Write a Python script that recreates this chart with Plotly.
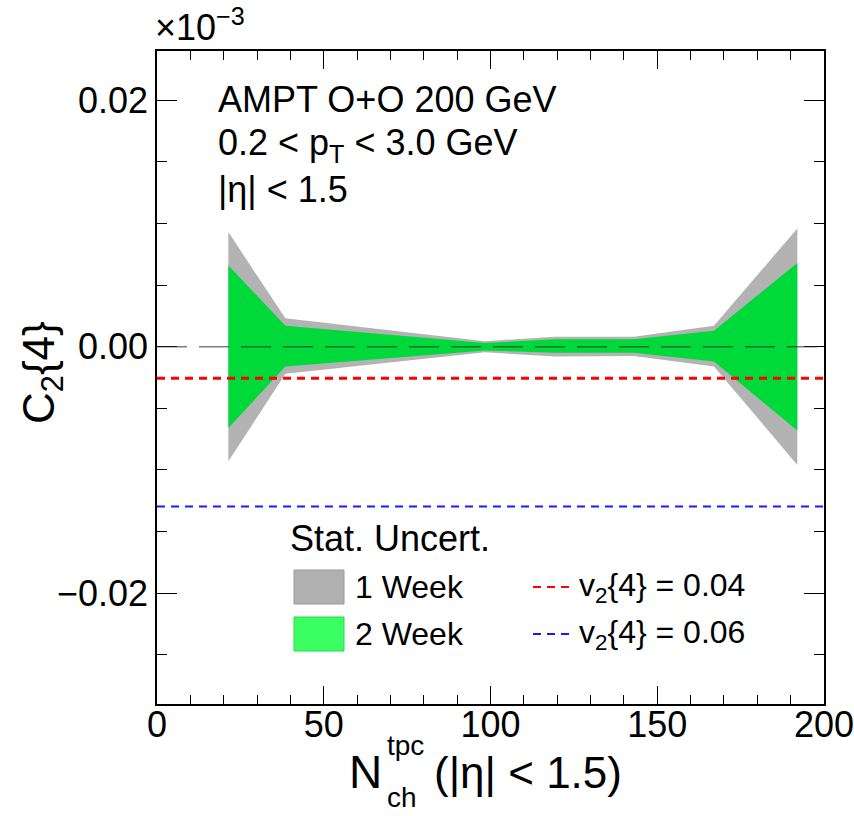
import plotly.graph_objects as go

# ---------------- data ----------------
nch = [21.4, 38.5, 98.3, 119.3, 143.0, 167.0, 192.0]
week1_hi = [0.0093, 0.0023, 0.00045, 0.0008, 0.0008, 0.0017, 0.0096]
week1_lo = [-0.0093, -0.0022, -0.00045, -0.0008, -0.00076, -0.0016, -0.0096]
week2_hi = [0.0066, 0.0017, 0.0003, 0.0006, 0.0006, 0.0013, 0.0068]
week2_lo = [-0.0066, -0.0016, -0.0003, -0.0005, -0.0005, -0.0012, -0.0068]
ref_labels = ["v<sub>2</sub>{4} = 0.04", "v<sub>2</sub>{4} = 0.06"]
ref_levels = [-0.00256, -0.01296]
ref_colors = ["#ff0000", "#1a1aff"]
ref_widths = [3, 2]

x_ticks = [0, 50, 100, 150, 200]
y_ticks = [-0.02, 0.0, 0.02]

FONT = "Liberation Sans, Arial, Helvetica, sans-serif"
W, H = 854, 816
L, R, T, B = 157, 824, 51, 704


def px(x):
    return (x - L) / (R - L)


def py(y):
    return (B - y) / (B - T)


fig = go.Figure()

# gray band (1 week)
fig.add_trace(go.Scatter(x=nch + nch[::-1], y=week1_hi + week1_lo[::-1],
                         fill="toself", fillcolor="#b3b3b3", mode="lines",
                         line=dict(width=0, color="#b3b3b3"), showlegend=False,
                         hoverinfo="skip"))
# green band (2 week)
fig.add_trace(go.Scatter(x=nch + nch[::-1], y=week2_hi + week2_lo[::-1],
                         fill="toself", fillcolor="#00d93a", mode="lines",
                         line=dict(width=0, color="#00d93a"), showlegend=False,
                         hoverinfo="skip"))

# zero line
fig.add_hline(y=0, line=dict(color="rgba(40,40,40,0.6)", width=1.5, dash="30px,12px"))
# reference lines
for lvl, col, wd in zip(ref_levels, ref_colors, ref_widths):
    fig.add_hline(y=lvl, line=dict(color=col, width=wd, dash="8px,6px"))

fig.update_xaxes(range=[0, 200], tickvals=x_ticks, ticks="inside", ticklen=18,
                 tickwidth=1.2, tickcolor="black", showline=True, linecolor="black",
                 linewidth=1.5, mirror="allticks", showgrid=False, zeroline=False,
                 tickfont=dict(family=FONT, size=36, color="black"),
                 minor=dict(dtick=10, ticks="inside", ticklen=9, tickcolor="black",
                            tickwidth=1.2, showgrid=False),
                 ticklabelstandoff=-12, ticklabeloverflow="allow", automargin=False)
fig.update_yaxes(range=[-0.029, 0.024], tickvals=y_ticks, tickformat=".2f",
                 ticks="inside", ticklen=20, tickwidth=1.2, tickcolor="black",
                 showline=True, linecolor="black", linewidth=1.5, mirror="allticks",
                 showgrid=False, zeroline=False,
                 tickfont=dict(family=FONT, size=36, color="black"),
                 minor=dict(dtick=0.005, tick0=0, ticks="inside", ticklen=10,
                            tickcolor="black", tickwidth=1.2, showgrid=False),
                 ticklabelstandoff=0, ticklabeloverflow="allow", automargin=False)

ann = []


def text(x, y, s, size, xanchor="left", yanchor="middle", angle=0):
    ann.append(dict(x=px(x), y=py(y), xref="paper", yref="paper", text=s,
                    showarrow=False, xanchor=xanchor, yanchor=yanchor,
                    textangle=angle,
                    font=dict(family=FONT, size=size, color="black")))


# exponent
text(153, 50, "×10<sup>−3</sup>", 36, yanchor="bottom")
# header
text(216, 99, "AMPT O+O 200 GeV", 36)
text(216, 145, "0.2 &lt; p<sub>T</sub> &lt; 3.0 GeV", 36)
text(216, 190, "|η| &lt; 1.5", 36)
# axis titles
text(42, 372, "C<sub>2</sub>{4}", 44, xanchor="center", angle=-90)
text(384, 772, "N", 46, xanchor="right")
text(385, 745, "tpc", 28)
text(385, 797, "ch", 28)
text(432, 772, "(|η| &lt; 1.5)", 44)
# legend
text(288, 538, "Stat. Uncert.", 36)
text(353, 587, "1 Week", 32)
text(353, 634, "2 Week", 32)
for i, (lab, col) in enumerate(zip(ref_labels, ref_colors)):
    text(577, 587 + 47 * i, lab, 32)

shapes = []
shapes.append(dict(type="rect", xref="paper", yref="paper", x0=px(294), x1=px(344),
                   y0=py(604), y1=py(570), fillcolor="#b0b0b0",
                   line=dict(color="#9a9a9a", width=1)))
shapes.append(dict(type="rect", xref="paper", yref="paper", x0=px(294), x1=px(344),
                   y0=py(651), y1=py(617), fillcolor="#3cff64",
                   line=dict(color="#22dd44", width=1)))
for i, col in enumerate(ref_colors):
    shapes.append(dict(type="line", xref="paper", yref="paper", x0=px(533), x1=px(574),
                       y0=py(587 + 47 * i), y1=py(587 + 47 * i),
                       line=dict(color=col, width=2, dash="8px,6px")))

fig.update_layout(width=W, height=H, margin=dict(l=L, r=W - R, t=T, b=H - B, autoexpand=False),
                  paper_bgcolor="white", plot_bgcolor="white",
                  annotations=ann, shapes=list(fig.layout.shapes) + shapes,
                  showlegend=False)

fig.write_html("out.html")
